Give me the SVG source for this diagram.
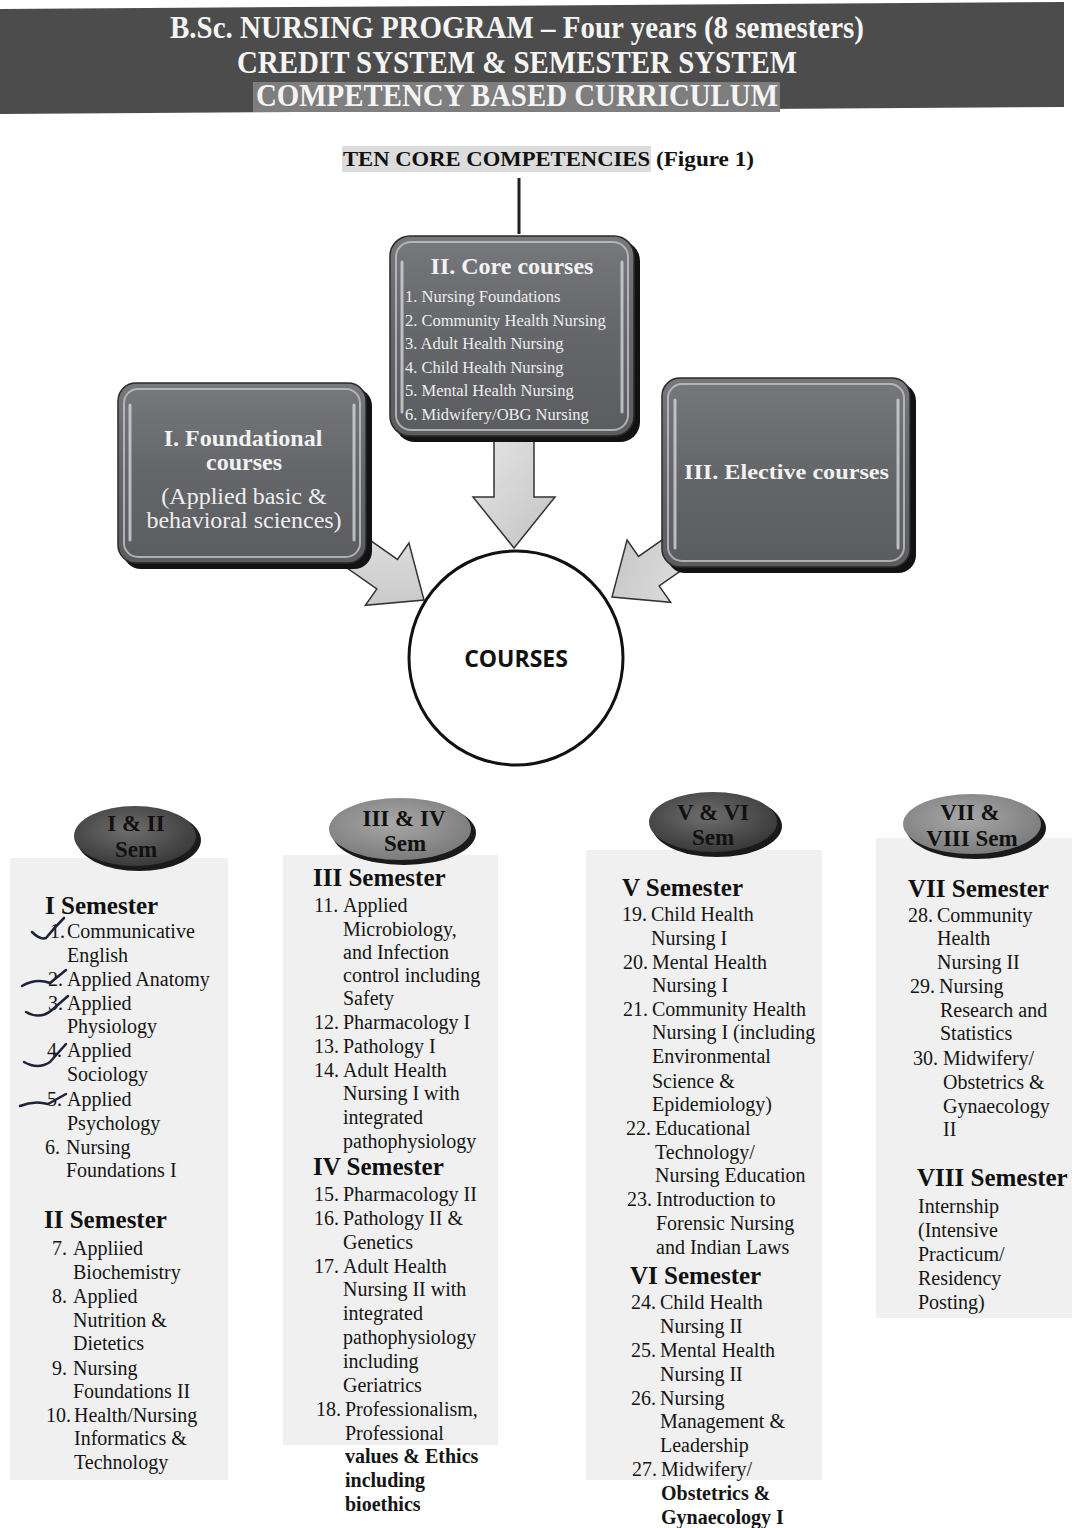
<svg xmlns="http://www.w3.org/2000/svg" width="1072" height="1528" viewBox="0 0 1072 1528">
<style>
.hdr{font-family:"Liberation Serif","Times New Roman",serif;font-weight:bold;fill:#f4f4f4}
.bx{font-family:"Liberation Serif","Times New Roman",serif;fill:#eeeeee}
.bxb{font-family:"Liberation Serif","Times New Roman",serif;font-weight:bold;fill:#f2f2f2}
.t{font-family:"Liberation Serif","Times New Roman",serif;font-size:20px;fill:#151515}
.tb{font-family:"Liberation Serif","Times New Roman",serif;font-size:20px;font-weight:bold;fill:#151515}
.sh{font-family:"Liberation Serif","Times New Roman",serif;font-size:25px;font-weight:bold;fill:#111}
.bd{font-family:"Liberation Serif","Times New Roman",serif;font-size:23px;font-weight:bold;fill:#111;text-anchor:middle}
.arrow{fill:url(#arrowg);stroke:#333;stroke-width:1.5}
.rim{fill:none;stroke:#c4c4c4;stroke-width:2;opacity:.8}
.hl{stroke:#dcdcdc;stroke-width:3;opacity:.75;stroke-linecap:round}
.shadow{fill:#121212}
.panel{fill:#f0f0f0}
.check{fill:none;stroke:#1c2238;stroke-width:2.5;stroke-linecap:round;stroke-linejoin:round}
</style>
<defs>
<linearGradient id="boxg" x1="0" y1="0" x2="0" y2="1">
<stop offset="0" stop-color="#76787c"/>
<stop offset="0.5" stop-color="#646669"/>
<stop offset="1" stop-color="#5a5c60"/>
</linearGradient>
<linearGradient id="arrowg" x1="0" y1="0" x2="1" y2="1">
<stop offset="0" stop-color="#e6e6e6"/>
<stop offset="1" stop-color="#c2c2c2"/>
</linearGradient>
<radialGradient id="ovDark" cx="0.45" cy="0.4" r="0.6">
<stop offset="0" stop-color="#6e6e6e"/>
<stop offset="1" stop-color="#3a3a3a"/>
</radialGradient>
<radialGradient id="ovLight" cx="0.45" cy="0.4" r="0.6">
<stop offset="0" stop-color="#a8a8a8"/>
<stop offset="1" stop-color="#7c7c7c"/>
</radialGradient>
</defs>
<rect x="0" y="0" width="1072" height="1528" fill="#ffffff"/>

<g id="header">
<polygon points="0,9 1064,2 1064,107 0,114" fill="#4c4c4c"/>
<rect x="253" y="82" width="527" height="30" fill="#7e7e7e"/>
<text class="hdr" x="170" y="38" font-size="31" textLength="694" lengthAdjust="spacingAndGlyphs">B.Sc. NURSING PROGRAM – Four years (8 semesters)</text>
<text class="hdr" x="237" y="73" font-size="31" textLength="560" lengthAdjust="spacingAndGlyphs">CREDIT SYSTEM &amp; SEMESTER SYSTEM</text>
<text class="hdr" x="256" y="106" font-size="31" textLength="522" lengthAdjust="spacingAndGlyphs">COMPETENCY BASED CURRICULUM</text>
</g>

<g id="competencies">
<rect x="342" y="146" width="309" height="26" fill="#dcdcdc"/>
<text x="343" y="166" font-family="Liberation Serif, Times New Roman, serif" font-weight="bold" font-size="22" fill="#111" textLength="307" lengthAdjust="spacingAndGlyphs">TEN CORE COMPETENCIES</text>
<text x="656" y="166" font-family="Liberation Serif, Times New Roman, serif" font-weight="bold" font-size="22" fill="#111" textLength="98" lengthAdjust="spacingAndGlyphs">(Figure 1)</text>
</g>

<g id="connectors">
<line x1="519" y1="178" x2="519" y2="234" stroke="#222" stroke-width="3"/>
<polygon class="arrow" points="494,438 534,438 534,497 555,497 514,548 473,497 494,497"/>
<polygon class="arrow" transform="translate(424,600) rotate(35) translate(-110,0)" points="0,-18 65,-18 65,-38 110,0 65,38 65,18 0,18"/>
<polygon class="arrow" transform="translate(612,597) rotate(145) translate(-110,0)" points="0,-18 65,-18 65,-38 110,0 65,38 65,18 0,18"/>
</g>

<g id="core-courses">
<rect class="shadow" x="395" y="241" width="245" height="201" rx="20"/>
<rect x="390" y="236" width="244" height="200" rx="20" fill="url(#boxg)" stroke="#2a2a2a" stroke-width="1.5"/>
<rect class="rim" x="396" y="242" width="232" height="188" rx="15"/>
<line class="hl" x1="402" y1="262" x2="402" y2="412"/>
<line class="hl" x1="622" y1="262" x2="622" y2="412"/>
<text class="bxb" x="512" y="274" font-size="24" text-anchor="middle">II. Core courses</text>
<text class="bx" x="405" y="302" font-size="16.5">1. Nursing Foundations</text>
<text class="bx" x="405" y="326" font-size="16.5">2. Community Health Nursing</text>
<text class="bx" x="405" y="349" font-size="16.5">3. Adult Health Nursing</text>
<text class="bx" x="405" y="373" font-size="16.5">4. Child  Health Nursing</text>
<text class="bx" x="405" y="396" font-size="16.5">5. Mental Health Nursing</text>
<text class="bx" x="405" y="420" font-size="16.5">6. Midwifery/OBG Nursing</text>
</g>

<g id="foundational-courses">
<rect class="shadow" x="123" y="388" width="249" height="181" rx="18"/>
<rect x="118" y="383" width="248" height="180" rx="18" fill="url(#boxg)" stroke="#2a2a2a" stroke-width="1.5"/>
<rect class="rim" x="124" y="389" width="236" height="168" rx="14"/>
<line class="hl" x1="130" y1="405" x2="130" y2="540"/>
<line class="hl" x1="354" y1="405" x2="354" y2="540"/>
<text class="bxb" x="243" y="446" font-size="24" text-anchor="middle">I. Foundational</text>
<text class="bxb" x="244" y="470" font-size="24" text-anchor="middle">courses</text>
<text class="bx" x="244" y="504" font-size="24" text-anchor="middle">(Applied basic &amp;</text>
<text class="bx" x="244" y="528" font-size="24" text-anchor="middle">behavioral sciences)</text>
</g>

<g id="elective-courses">
<rect class="shadow" x="667" y="383" width="249" height="190" rx="18"/>
<rect x="662" y="378" width="248" height="189" rx="18" fill="url(#boxg)" stroke="#2a2a2a" stroke-width="1.5"/>
<rect class="rim" x="668" y="384" width="236" height="177" rx="14"/>
<line class="hl" x1="675" y1="400" x2="675" y2="548"/>
<line class="hl" x1="898" y1="400" x2="898" y2="548"/>
<text class="bxb" x="684" y="479" font-size="22" textLength="205" lengthAdjust="spacingAndGlyphs">III.  Elective courses</text>
</g>

<g id="courses">
<circle cx="516" cy="658" r="107" fill="#ffffff" stroke="#111" stroke-width="3"/>
<text x="516" y="667" font-family="Open Sans, Liberation Sans, sans-serif" font-weight="bold" font-size="23" fill="#111" text-anchor="middle">COURSES</text>
</g>

<g id="panels">
<rect class="panel" x="10" y="858" width="218" height="622"/>
<rect class="panel" x="283" y="855" width="215" height="590"/>
<rect class="panel" x="586" y="850" width="236" height="630"/>
<rect class="panel" x="876" y="838" width="196" height="480"/>
</g>

<g id="sem-1-2-badge">
<ellipse cx="139" cy="840" rx="62" ry="31" fill="#1a1a1a"/>
<ellipse cx="135" cy="836" rx="61" ry="30" fill="url(#ovDark)"/>
<text class="bd" x="136" y="831">I &amp; II</text>
<text class="bd" x="136" y="857">Sem</text>
</g>
<g id="sem-3-4-badge">
<ellipse cx="404" cy="833" rx="72" ry="32" fill="#1a1a1a"/>
<ellipse cx="400" cy="829" rx="71" ry="31" fill="url(#ovLight)"/>
<text class="bd" x="404" y="826">III &amp; IV</text>
<text class="bd" x="405" y="851">Sem</text>
</g>
<g id="sem-5-6-badge">
<ellipse cx="717" cy="826" rx="65" ry="31" fill="#1a1a1a"/>
<ellipse cx="713" cy="822" rx="64" ry="30" fill="url(#ovDark)"/>
<text class="bd" x="713" y="820">V &amp; VI</text>
<text class="bd" x="713" y="845">Sem</text>
</g>
<g id="sem-7-8-badge">
<ellipse cx="976" cy="828" rx="70" ry="31" fill="#1a1a1a"/>
<ellipse cx="972" cy="824" rx="69" ry="30" fill="url(#ovLight)"/>
<text class="bd" x="970" y="820">VII &amp;</text>
<text class="bd" x="972" y="846">VIII  Sem</text>
</g>

<g id="column-1">
<text class="sh" x="45" y="914">I Semester</text>
<text class="t" x="50" y="938">1.</text><text class="t" x="67" y="938">Communicative</text>
<text class="t" x="67" y="962">English</text>
<text class="t" x="48" y="986">2.</text><text class="t" x="67" y="986">Applied Anatomy</text>
<text class="t" x="48" y="1010">3.</text><text class="t" x="67" y="1010">Applied</text>
<text class="t" x="67" y="1033">Physiology</text>
<text class="t" x="47" y="1057">4.</text><text class="t" x="67" y="1057">Applied</text>
<text class="t" x="67" y="1081">Sociology</text>
<text class="t" x="47" y="1106">5.</text><text class="t" x="67" y="1106">Applied</text>
<text class="t" x="67" y="1130">Psychology</text>
<text class="t" x="45" y="1154">6.</text><text class="t" x="66" y="1154">Nursing</text>
<text class="t" x="66" y="1177">Foundations I</text>
<path class="check" d="M32,932 Q40,940 46,938 Q54,928 64,918"/>
<path class="check" d="M22,986 Q36,978 50,983 L66,970"/>
<path class="check" d="M26,1012 Q40,1020 52,1010 L68,996"/>
<path class="check" d="M24,1062 Q38,1070 50,1062 L66,1044"/>
<path class="check" d="M20,1106 Q34,1100 48,1104 L66,1094"/>
<text class="sh" x="44" y="1228">II Semester</text>
<text class="t" x="52" y="1255">7.</text><text class="t" x="73" y="1255">Appliied</text>
<text class="t" x="73" y="1279">Biochemistry</text>
<text class="t" x="52" y="1303">8.</text><text class="t" x="73" y="1303">Applied</text>
<text class="t" x="73" y="1327">Nutrition &amp;</text>
<text class="t" x="73" y="1350">Dietetics</text>
<text class="t" x="52" y="1375">9.</text><text class="t" x="73" y="1375">Nursing</text>
<text class="t" x="73" y="1398">Foundations II</text>
<text class="t" x="46" y="1422">10.</text><text class="t" x="74" y="1422">Health/Nursing</text>
<text class="t" x="74" y="1445">Informatics &amp;</text>
<text class="t" x="74" y="1469">Technology</text>
</g>

<g id="column-2">
<text class="sh" x="313" y="886">III Semester</text>
<text class="t" x="314" y="912">11.</text><text class="t" x="343" y="912">Applied</text>
<text class="t" x="343" y="936">Microbiology,</text>
<text class="t" x="343" y="959">and Infection</text>
<text class="t" x="343" y="982">control including</text>
<text class="t" x="343" y="1005">Safety</text>
<text class="t" x="314" y="1029">12.</text><text class="t" x="343" y="1029">Pharmacology I</text>
<text class="t" x="314" y="1053">13.</text><text class="t" x="343" y="1053">Pathology I</text>
<text class="t" x="314" y="1077">14.</text><text class="t" x="343" y="1077">Adult Health</text>
<text class="t" x="343" y="1100">Nursing I with</text>
<text class="t" x="343" y="1124">integrated</text>
<text class="t" x="343" y="1148">pathophysiology</text>
<text class="sh" x="313" y="1175">IV Semester</text>
<text class="t" x="314" y="1201">15.</text><text class="t" x="343" y="1201">Pharmacology II</text>
<text class="t" x="314" y="1225">16.</text><text class="t" x="343" y="1225">Pathology II &amp;</text>
<text class="t" x="343" y="1249">Genetics</text>
<text class="t" x="314" y="1273">17.</text><text class="t" x="343" y="1273">Adult Health</text>
<text class="t" x="343" y="1296">Nursing II with</text>
<text class="t" x="343" y="1320">integrated</text>
<text class="t" x="343" y="1344">pathophysiology</text>
<text class="t" x="343" y="1368">including</text>
<text class="t" x="343" y="1392">Geriatrics</text>
<text class="t" x="316" y="1416">18.</text><text class="t" x="345" y="1416">Professionalism,</text>
<text class="t" x="345" y="1440">Professional</text>
<text class="tb" x="345" y="1463">values &amp; Ethics</text>
<text class="tb" x="345" y="1487">including</text>
<text class="tb" x="345" y="1511">bioethics</text>
</g>

<g id="column-3">
<text class="sh" x="622" y="896">V Semester</text>
<text class="t" x="622" y="921">19.</text><text class="t" x="651" y="921">Child Health</text>
<text class="t" x="651" y="945">Nursing I</text>
<text class="t" x="623" y="969">20.</text><text class="t" x="652" y="969">Mental Health</text>
<text class="t" x="652" y="992">Nursing I</text>
<text class="t" x="623" y="1016">21.</text><text class="t" x="652" y="1016">Community Health</text>
<text class="t" x="652" y="1039">Nursing I (including</text>
<text class="t" x="652" y="1063">Environmental</text>
<text class="t" x="652" y="1088">Science &amp;</text>
<text class="t" x="652" y="1111">Epidemiology)</text>
<text class="t" x="626" y="1135">22.</text><text class="t" x="655" y="1135">Educational</text>
<text class="t" x="655" y="1159">Technology/</text>
<text class="t" x="655" y="1182">Nursing Education</text>
<text class="t" x="627" y="1206">23.</text><text class="t" x="656" y="1206">Introduction to</text>
<text class="t" x="656" y="1230">Forensic Nursing</text>
<text class="t" x="656" y="1254">and Indian Laws</text>
<text class="sh" x="630" y="1284">VI Semester</text>
<text class="t" x="631" y="1309">24.</text><text class="t" x="660" y="1309">Child Health</text>
<text class="t" x="660" y="1333">Nursing II</text>
<text class="t" x="631" y="1357">25.</text><text class="t" x="660" y="1357">Mental Health</text>
<text class="t" x="660" y="1381">Nursing II</text>
<text class="t" x="631" y="1405">26.</text><text class="t" x="660" y="1405">Nursing</text>
<text class="t" x="660" y="1428">Management &amp;</text>
<text class="t" x="660" y="1452">Leadership</text>
<text class="t" x="632" y="1476">27.</text><text class="t" x="661" y="1476">Midwifery/</text>
<text class="tb" x="661" y="1500">Obstetrics &amp;</text>
<text class="tb" x="661" y="1524">Gynaecology I</text>
</g>

<g id="column-4">
<text class="sh" x="908" y="897">VII Semester</text>
<text class="t" x="908" y="922">28.</text><text class="t" x="937" y="922">Community</text>
<text class="t" x="937" y="945">Health</text>
<text class="t" x="937" y="969">Nursing II</text>
<text class="t" x="910" y="993">29.</text><text class="t" x="939" y="993">Nursing</text>
<text class="t" x="940" y="1017">Research and</text>
<text class="t" x="940" y="1040">Statistics</text>
<text class="t" x="913" y="1065">30.</text><text class="t" x="943" y="1065">Midwifery/</text>
<text class="t" x="943" y="1089">Obstetrics &amp;</text>
<text class="t" x="943" y="1113">Gynaecology</text>
<text class="t" x="943" y="1136">II</text>
<text class="sh" x="917" y="1186">VIII  Semester</text>
<text class="t" x="918" y="1213">Internship</text>
<text class="t" x="918" y="1237">(Intensive</text>
<text class="t" x="918" y="1261">Practicum/</text>
<text class="t" x="918" y="1285">Residency</text>
<text class="t" x="918" y="1309">Posting)</text>
</g>
</svg>
